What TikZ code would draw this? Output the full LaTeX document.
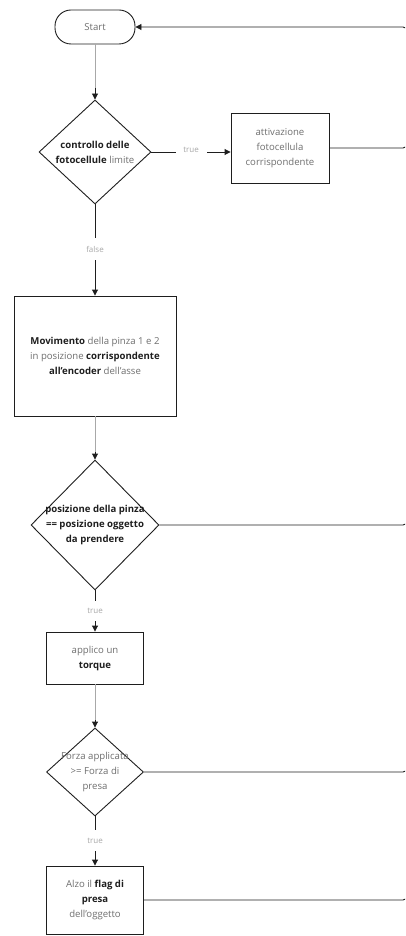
\documentclass[tikz,border=0pt]{standalone}
\usepackage{fontspec}
\setmainfont{Open Sans}
\usetikzlibrary{shapes.geometric,arrows.meta}
\definecolor{soft}{HTML}{6E6E6E}
\definecolor{faint}{HTML}{A8A8A8}
\definecolor{ink}{HTML}{1E1E1E}
\newcommand{\hb}[1]{\textcolor{ink}{\bfseries #1}}
\newcommand{\ap}{{\char"27}}
\tikzset{
  every node/.style={font=\fontsize{9.6}{15}\selectfont, text=soft},
  box/.style={draw=ink, line width=0.9pt, rectangle, inner sep=0pt},
  terminal/.style={draw=ink, line width=0.9pt, rectangle, rounded corners=16pt,
    minimum width=80pt, minimum height=34pt, inner sep=0pt},
  dia/.style={draw=ink, line width=0.9pt, diamond, inner sep=0pt},
  txt/.style={align=center, inner sep=0pt},
  flow/.style={draw=ink, line width=0.9pt},
  pale/.style={draw=faint, line width=0.9pt},
  tip/.style={-{Triangle[length=6pt,width=6pt,fill=ink,color=ink]}},
  lbl/.style={fill=white, inner sep=1.5pt, text=faint, font=\fontsize{8}{9}\selectfont},
}
\begin{document}
\begin{tikzpicture}[x=1pt,y=-1pt]
  \useasboundingbox (0,0) rectangle (405,936);
  \clip (0,0) rectangle (405,936);

  % nodes of the flow
  \node[terminal] (start) at (95,27) {Start};

  \node[dia, minimum width=112pt, minimum height=104pt] (d1) at (95,152) {};
  \node[txt] (d1t) at (d1.center) {\hb{controllo delle}\\\hb{fotocellule} limite};

  \node[box, minimum width=98pt, minimum height=70pt] (act) at (280,148) {};
  \node[txt] (actt) at (act.center) {attivazione\\fotocellula\\corrispondente};

  \node[box, minimum width=162pt, minimum height=120pt] (move) at (95,356) {};
  \node[txt] (movet) at (move.center) {\hb{Movimento} della pinza 1 e 2\\in posizione \hb{corrispondente}\\\hb{all\ap encoder} dell\ap asse};

  \node[dia, minimum width=128pt, minimum height=130pt] (d2) at (95,525) {};
  \node[txt, text=ink] (d2t) at (d2.center) {\bfseries posizione della pinza\\\bfseries == posizione oggetto\\\bfseries da prendere};

  \node[box, minimum width=97pt, minimum height=52pt] (torque) at (95,658) {};
  \node[txt] (torquet) at (torque.center) {applico un\\\hb{torque}};

  \node[dia, minimum width=97pt, minimum height=88pt] (d3) at (95,772) {};
  \node[txt] (d3t) at (d3.center) {Forza applicata\\>= Forza di\\presa};

  \node[box, minimum width=97pt, minimum height=68pt] (flag) at (95,900) {};
  \node[txt] (flagt) at (flag.center) {Alzo il \hb{flag di}\\\hb{presa}\\dell\ap oggetto};

  % return rail just beyond the right border, leading back to Start
  \coordinate (rail1) at (408,148);
  \coordinate (rail2) at (408,525);
  \coordinate (rail3) at (408,772);
  \coordinate (rail4) at (408,900);

  % connectors
  \draw[pale] (start.south) -- (95,92);
  \draw[flow, tip] (95,88) -- (d1.north);

  \draw[flow] (d1.east) -- (176,152);
  \draw[flow, tip] (207,152) -- (act.west |- 0,152);
  \node[lbl] (ltrue1) at (191,150) {true};

  \draw[flow] (d1.south) -- (95,238);
  \draw[flow, tip] (95,260) -- (move.north);
  \node[lbl] (lfalse) at (95,249) {false};

  \draw[pale] (move.south) -- (95,452);
  \draw[flow, tip] (95,452) -- (d2.north);

  \draw[flow] (d2.south) -- (95,601);
  \draw[flow, tip] (95,621) -- (torque.north);
  \node[lbl] (ltrue2) at (95,611) {true};

  \draw[pale] (torque.south) -- (95,720);
  \draw[flow, tip] (95,720) -- (d3.north);

  \draw[flow] (d3.south) -- (95,830);
  \draw[flow, tip] (95,851) -- (flag.north);
  \node[lbl] (ltrue3) at (95,841) {true};

  \draw[flow, rounded corners=5pt] (act.east) -- (rail1) -- (408,138);
  \draw[flow, rounded corners=5pt] (d2.east) -- (rail2) -- (408,515);
  \draw[flow, rounded corners=5pt] (d3.east) -- (rail3) -- (408,762);
  \draw[flow, rounded corners=5pt, tip] (flag.east) -- (rail4) |- (start.east);
\end{tikzpicture}
\end{document}
